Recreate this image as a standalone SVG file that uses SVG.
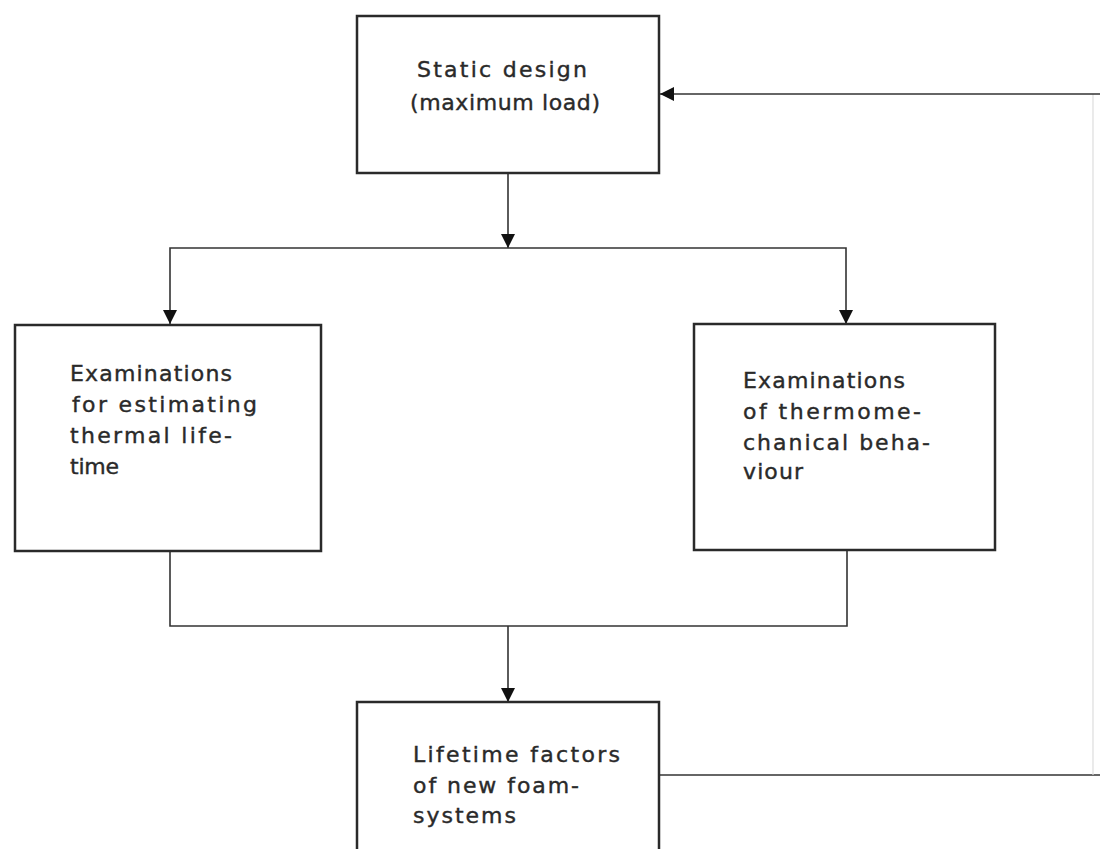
<svg xmlns="http://www.w3.org/2000/svg" width="1100" height="849" viewBox="0 0 1100 849">
<style>
.box{fill:#fff;stroke:#2a2a2a;stroke-width:2.5}
.ln{fill:none;stroke:#333;stroke-width:1.6}
.faint{fill:none;stroke:#ddd;stroke-width:1.2}
text{font-family:"DejaVu Sans","Liberation Sans",sans-serif;font-size:22px;fill:#2a2a2a;stroke:#2a2a2a;stroke-width:0.4}
</style>
<defs>
<marker id="ah" viewBox="0 0 10 10" refX="10" refY="5" markerWidth="14" markerHeight="14" markerUnits="userSpaceOnUse" orient="auto">
<path d="M0,0 L10,5 L0,10 Z" fill="#111"/>
</marker>
</defs>
<rect width="1100" height="849" fill="#fff"/>
<g id="connectors">
<line class="ln" x1="508" y1="173" x2="508" y2="248" marker-end="url(#ah)"/>
<polyline class="ln" points="508,248 170,248 170,324" marker-end="url(#ah)"/>
<polyline class="ln" points="508,248 846,248 846,324" marker-end="url(#ah)"/>
<polyline class="ln" points="170,551 170,626 847,626 847,550"/>
<line class="ln" x1="508" y1="626" x2="508" y2="702" marker-end="url(#ah)"/>
<line class="ln" x1="660" y1="775" x2="1100" y2="775"/>
<line class="faint" x1="1093" y1="94" x2="1093" y2="775"/>
<line class="ln" x1="1100" y1="94" x2="660" y2="94" marker-end="url(#ah)"/>
</g>
<g id="static-design">
<rect class="box" x="357" y="16" width="302" height="157"/>
<text x="417" y="77" textLength="170" lengthAdjust="spacing">Static design</text>
<text x="410" y="110" textLength="190" lengthAdjust="spacing">(maximum load)</text>
</g>
<g id="thermal-lifetime">
<rect class="box" x="15" y="325" width="306" height="226"/>
<text x="70" y="381" textLength="162" lengthAdjust="spacing">Examinations</text>
<text x="72" y="412" textLength="185" lengthAdjust="spacing">for estimating</text>
<text x="70" y="443" textLength="162" lengthAdjust="spacing">thermal life-</text>
<text x="70" y="474" textLength="49" lengthAdjust="spacing">time</text>
</g>
<g id="thermomechanical">
<rect class="box" x="694" y="324" width="301" height="226"/>
<text x="743" y="388" textLength="162" lengthAdjust="spacing">Examinations</text>
<text x="743" y="419" textLength="178" lengthAdjust="spacing">of thermome-</text>
<text x="743" y="450" textLength="187" lengthAdjust="spacing">chanical beha-</text>
<text x="743" y="479" textLength="60" lengthAdjust="spacing">viour</text>
</g>
<g id="lifetime-factors">
<rect class="box" x="357" y="702" width="302" height="160"/>
<text x="413" y="762" textLength="207" lengthAdjust="spacing">Lifetime factors</text>
<text x="413" y="793" textLength="166" lengthAdjust="spacing">of new foam-</text>
<text x="413" y="823" textLength="103" lengthAdjust="spacing">systems</text>
</g>
</svg>
